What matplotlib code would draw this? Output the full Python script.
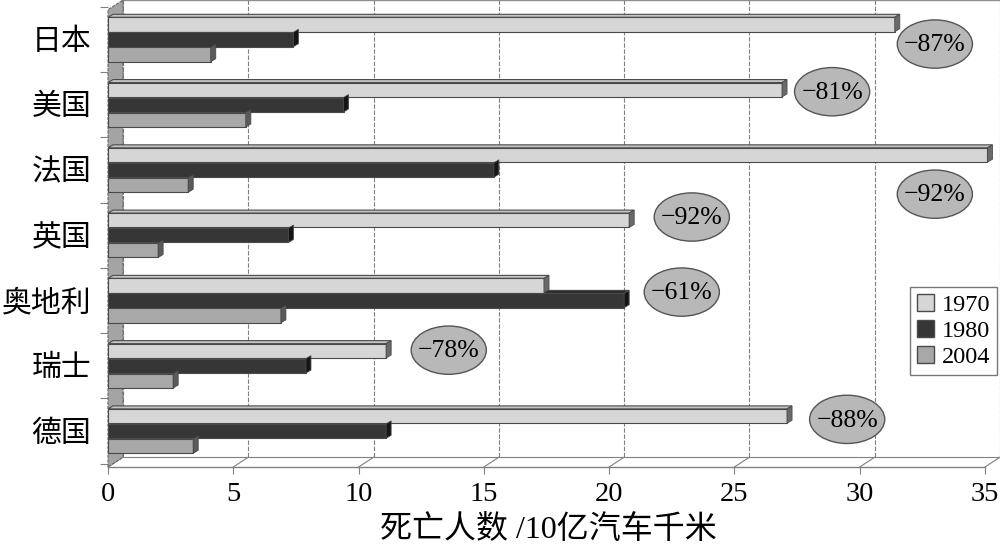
import matplotlib
matplotlib.use("Agg")
import matplotlib.pyplot as plt
from matplotlib.patches import Polygon, Ellipse, Patch

# ── Data ──────────────────────────────────────────────────────────────────────
countries = ["日本", "美国", "法国", "英国", "奥地利", "瑞士", "德国"]
years = ["1970", "1980", "2004"]
v1970 = [31.4, 26.9, 35.1, 20.8, 17.4, 11.1, 27.1]
v1980 = [7.4, 9.4, 15.4, 7.2, 20.6, 7.9, 11.1]
v2004 = [4.1, 5.5, 3.2, 2.0, 6.9, 2.6, 3.4]
changes = ["−87%", "−81%", "−92%", "−92%", "−61%", "−78%", "−88%"]
xticks = [0, 5, 10, 15, 20, 25, 30, 35]
xlabel = "死亡人数 /10亿汽车千米"

# ── Layout / style ────────────────────────────────────────────────────────────
callout_xy = [(33.0, 0.07), (28.9, 0.80), (33.0, 2.37), (23.3, 2.72),
              (22.9, 3.87), (13.6, 4.76), (29.5, 5.82)]
FACE = {"1970": "#d6d6d6", "1980": "#363636", "2004": "#a8a8a8"}
TOP = {"1970": "#c4c4c4", "1980": "#2a2a2a", "2004": "#969696"}
SIDE = {"1970": "#6a6a6a", "1980": "#151515", "2004": "#5a5a5a"}
EDGE = "#4a4a4a"
DEPTH = 0.6            # back wall offset (x units)
DX, DY = 0.2, 0.046    # bar 3D depth
Y_TOP, Y_BACK, Y_FRONT = -0.605, 6.40, 6.55

plt.rcParams["font.family"] = ["Liberation Serif", "Noto Sans CJK SC", "DejaVu Sans"]

fig = plt.figure(figsize=(10, 5.47), dpi=100)
ax = fig.add_axes([0.108, 1 - 467 / 547, 0.892, 467 / 547])
ax.set_xlim(0, 35.6)
ax.set_ylim(Y_FRONT, Y_TOP)
for s in ax.spines.values():
    s.set_visible(False)

# back wall grid + floor
grid_kw = dict(color="#808080", lw=0.8, ls=(0, (4, 1.5)), zorder=1)
for t in xticks:
    ax.plot([t + DEPTH, t + DEPTH], [Y_TOP, Y_BACK], **grid_kw)
    ax.plot([t + DEPTH, t], [Y_BACK, Y_FRONT], color="#808080", lw=0.8, zorder=1)
ax.plot([DEPTH, 35.6], [Y_BACK, Y_BACK], color="#808080", lw=0.8, zorder=1)
ax.plot([0, 35], [Y_FRONT, Y_FRONT], color="#808080", lw=1.0, zorder=1, clip_on=False)
ax.plot([DEPTH, 35.6], [Y_TOP, Y_TOP], color="#909090", lw=1.0, zorder=1, clip_on=False)

# left wall
ax.add_patch(Polygon([(0, Y_FRONT), (0, Y_TOP + 0.15), (DEPTH, Y_TOP), (DEPTH, Y_BACK)],
                     closed=True, facecolor="#a4a4a4", edgecolor="#666666",
                     lw=0.8, ls=(0, (3, 1)), zorder=2, clip_on=False))

# bars
ypos = range(len(countries))
height = 0.22
offsets = [-0.23, 0.0, 0.23]
for year, vals, off in zip(years, [v1970, v1980, v2004], offsets):
    bars = ax.barh([y + off for y in ypos], vals, height=height,
                   color=FACE[year], edgecolor=EDGE, linewidth=0.8, zorder=4)
    for b in bars:
        x0, yb, w, h = b.get_x(), b.get_y(), b.get_width(), b.get_height()
        top, bot = yb, yb + h
        ax.add_patch(Polygon([(x0, top), (x0 + w, top), (x0 + w + DX, top - DY),
                              (x0 + DX, top - DY)], closed=True, facecolor=TOP[year],
                             edgecolor=EDGE, lw=0.8, zorder=3.5))
        ax.add_patch(Polygon([(x0 + w, top), (x0 + w, bot), (x0 + w + DX, bot - DY),
                              (x0 + w + DX, top - DY)], closed=True, facecolor=SIDE[year],
                             edgecolor=EDGE, lw=0.6, zorder=4.5, clip_on=False))

# callouts
for txt, (cx, cy) in zip(changes, callout_xy):
    ax.add_patch(Ellipse((cx, cy), 3.0, 0.74, facecolor="#b8b8b8",
                         edgecolor="#555555", lw=1.0, zorder=6))
    ax.text(cx, cy + 0.02, txt, ha="center", va="center", fontsize=18.5, zorder=7)

# axes ticks
ax.set_xticks(xticks)
ax.set_xticklabels([str(t) for t in xticks], fontsize=20.5)
ax.tick_params(axis="x", length=5, width=0.8, color="#808080", pad=6)
ax.set_yticks(list(ypos))
ax.set_yticklabels(countries, fontsize=21.5)
ax.set_yticks([i - 0.5 for i in range(len(countries) + 1)], minor=True)
ax.tick_params(axis="y", which="major", length=0, pad=12)
ax.tick_params(axis="y", which="minor", length=6, width=0.8, color="#808080")

fig.text(0.548, 0.031, xlabel, ha="center", va="center", fontsize=23)

handles = [Patch(facecolor=FACE[y], edgecolor=EDGE, label=y) for y in years]
fig.legend(handles=handles, loc="upper left", bbox_to_anchor=(0.910, 1 - 287 / 547),
           fontsize=17.5, frameon=True, fancybox=False, edgecolor="#555555",
           handlelength=0.7, handleheight=0.7, handletextpad=0.3,
           borderpad=0.3, labelspacing=0.15, borderaxespad=0)

fig.savefig("out.png", dpi=100, facecolor="white")
